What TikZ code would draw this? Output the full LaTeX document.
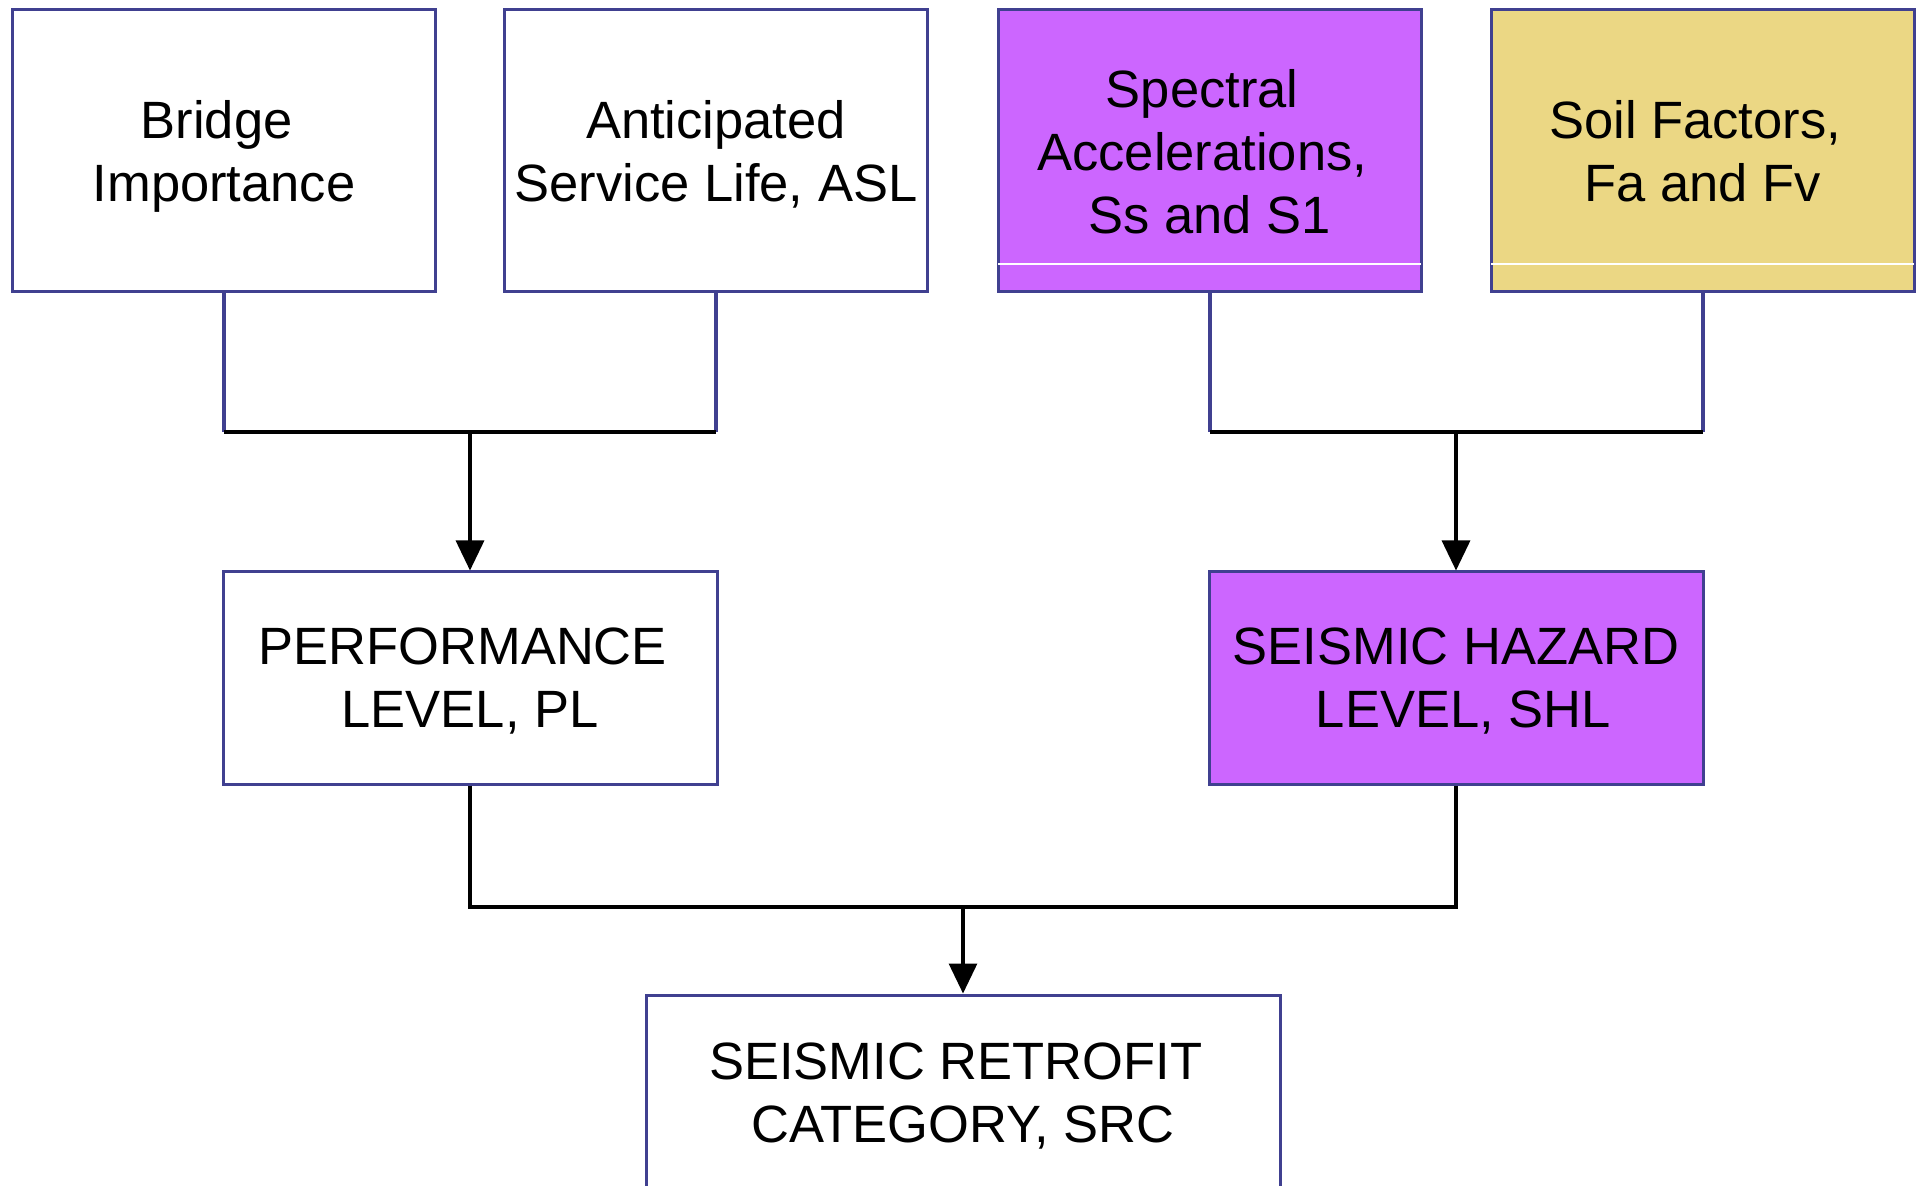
\documentclass[tikz,border=0pt]{standalone}
\usepackage{fontspec}
\setmainfont{Liberation Sans}
\usetikzlibrary{arrows.meta}

\definecolor{edgeblue}{RGB}{64,64,144}
\definecolor{violetfill}{RGB}{204,102,255}
\definecolor{sandfill}{RGB}{235,215,132}

% width of a word space, kept where a line starts or ends with one
\newcommand{\wsp}{\kern0.278em}

\tikzset{
  box/.style={draw=edgeblue, line width=1.5pt, inner sep=0pt, align=center,
    text depth=0pt, font=\fontsize{26.25pt}{31.5pt}\selectfont},
  topbox/.style={box, minimum width=211.5pt, minimum height=141pt},
  midbox/.style={box, minimum width=247pt, minimum height=106pt},
  feed/.style={draw=edgeblue, line width=2pt},
  bus/.style={draw=black, line width=2.4pt},
  flow/.style={draw=black, line width=1.6pt, -{Triangle[length=15pt,width=14pt]}},
  sheen/.style={draw=white, line width=0.6pt}
}

\begin{document}
\begin{tikzpicture}[x=0.5pt, y=-0.5pt]
  \useasboundingbox[fill=white] (0,0) rectangle (1921,1186);

  % input boxes
  \node[topbox] (bi) at (224,151) {Bridge\wsp\\Importance};
  \node[topbox] (asl) at (716,151) {Anticipated\\Service Life, ASL};
  \node[topbox, fill=violetfill] (ss) at (1209.5,151) {Spectral\wsp\\Accelerations,\wsp\\Ss and S1};
  \node[topbox, fill=sandfill] (sf) at (1702.5,151) {Soil Factors,\wsp\\Fa and Fv};

  % thin highlight lines near the bottom of the coloured boxes
  \draw[sheen] ([xshift=0.75pt]ss.south west |- 0,264) -- ([xshift=-0.75pt]ss.south east |- 0,264);
  \draw[sheen] ([xshift=0.75pt]sf.south west |- 0,264) -- ([xshift=-0.75pt]sf.south east |- 0,264);

  % intermediate boxes
  \node[midbox] (pl) at (470,678) {PERFORMANCE\wsp\\LEVEL, PL};
  \node[midbox, fill=violetfill] (shl) at (1456,678) {SEISMIC HAZARD\\\wsp LEVEL, SHL};

  % result box
  \node[box, minimum width=317pt, minimum height=98pt] (src) at (963,1093) {SEISMIC RETROFIT\wsp\\CATEGORY, SRC};

  % junction points
  \coordinate (jl) at (470,432);
  \coordinate (jr) at (1456,432);
  \coordinate (jb) at (963,907);

  % left branch
  \draw[feed] (bi.south) -- (bi.south |- jl);
  \draw[feed] (asl.south) -- (asl.south |- jl);
  \draw[bus] (bi.south |- jl) -- (asl.south |- jl);
  \draw[flow] (jl) -- (pl.north);

  % right branch
  \draw[feed] (ss.south) -- (ss.south |- jr);
  \draw[feed] (sf.south) -- (sf.south |- jr);
  \draw[bus] (ss.south |- jr) -- (sf.south |- jr);
  \draw[flow] (jr) -- (shl.north);

  % combination
  \draw[bus] (pl.south) -- (pl.south |- jb) -- (shl.south |- jb) -- (shl.south);
  \draw[flow] (jb) -- (src.north);
\end{tikzpicture}
\end{document}
